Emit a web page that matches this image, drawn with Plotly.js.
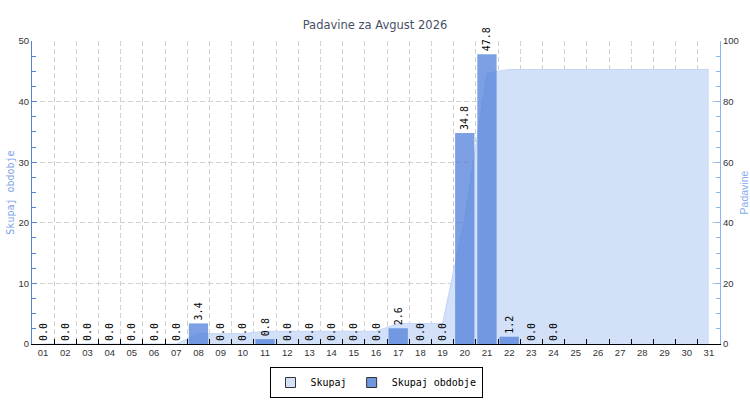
<!DOCTYPE html>
<html>
<head>
<meta charset="utf-8">
<script src="https://cdn.plot.ly/plotly-3.0.1.min.js"></script>
<style>html,body{margin:0;padding:0;background:#fff}#chart{width:750px;height:400px}</style>
</head>
<body>
<div id="chart"></div>
<script>
var days = ["01","02","03","04","05","06","07","08","09","10","11","12","13","14","15","16","17","18","19","20","21","22","23","24","25","26","27","28","29","30","31"];
var dailyRain = [0,0,0,0,0,0,0,3.4,0,0,0.8,0,0,0,0,0,2.6,0,0,34.8,47.8,1.2,0,0,null,null,null,null,null,null,null];
var cumulativeRain = [0,0,0,0,0,0,0,3.4,3.4,3.4,4.2,4.2,4.2,4.2,4.2,4.2,6.8,6.8,6.8,41.6,89.4,90.6,90.6,90.6,90.6,90.6,90.6,90.6,90.6,90.6,90.6];
var seriesNames = ["Skupaj", "Skupaj obdobje"];
var titleText = "Padavine za Avgust 2026";
var leftAxisTitle = "Skupaj obdobje";
var rightAxisTitle = "Padavine";

var areaFill = "rgb(210,224,248)";
var barFill = "rgba(80,128,218,0.75)";
var mono = "DejaVu Sans Mono";
var sans = "Liberation Sans";

var data = [
  {
    type: "scatter", mode: "lines", x: days, y: cumulativeRain, yaxis: "y",
    fill: "tozeroy", fillcolor: areaFill,
    line: {color: "rgb(196,213,244)", width: 1},
    showlegend: false, hoverinfo: "skip"
  },
  {
    type: "bar", x: days, y: dailyRain, yaxis: "y2",
    width: 0.87,
    marker: {color: barFill, line: {width: 0}},
    texttemplate: "%{y:.1f}", textposition: "outside", textangle: -90,
    constraintext: "none", cliponaxis: false,
    textfont: {family: mono, size: 10, color: "#000"},
    showlegend: false, hoverinfo: "skip"
  },
  {
    type: "scatter", mode: "markers", x: [days[0]], y: [null], yaxis: "y2", name: seriesNames[0],
    marker: {symbol: "square", size: 10, color: areaFill, line: {color: "#333", width: 1}},
    showlegend: true, hoverinfo: "skip"
  },
  {
    type: "scatter", mode: "markers", x: [days[0]], y: [null], yaxis: "y2", name: seriesNames[1],
    marker: {symbol: "square", size: 10, color: "rgb(110,152,222)", line: {color: "#333", width: 1}},
    showlegend: true, hoverinfo: "skip"
  }
];

var layout = {
  width: 750, height: 400,
  margin: {l: 32, r: 30, t: 41, b: 56, pad: 0, autoexpand: false},
  paper_bgcolor: "#fff", plot_bgcolor: "#fff",
  barmode: "overlay",
  title: {
    text: titleText, x: 0.5, xref: "container", xanchor: "center",
    y: 1 - 25/400, yref: "container", yanchor: "middle",
    font: {family: "DejaVu Sans", size: 11.5, color: "rgb(70,80,100)"}
  },
  xaxis: {
    type: "category", range: [-0.5, 30.5], automargin: false,
    tickson: "boundaries", ticks: "inside", ticklen: 5, tickcolor: "#000", tickwidth: 1,
    showline: true, linecolor: "#000", linewidth: 1,
    showgrid: true, gridcolor: "#d0d0d0", griddash: "5px,3px", gridwidth: 1,
    tickfont: {family: sans, size: 9.5, color: "#333"},
    zeroline: false, fixedrange: true
  },
  yaxis: {
    side: "right", range: [0, 100], dtick: 20, automargin: false,
    ticks: "inside", ticklen: 5, tickcolor: "rgb(140,180,240)",
    showline: true, linecolor: "rgb(140,180,240)", linewidth: 1,
    minor: {dtick: 5, ticks: "inside", ticklen: 4, tickcolor: "rgb(140,180,240)", showgrid: false},
    showgrid: true, gridcolor: "#d0d0d0", griddash: "5px,3px", gridwidth: 1,
    zeroline: false,
    tickfont: {family: sans, size: 9.5, color: "#333"},
    title: {text: rightAxisTitle, standoff: 2, font: {family: sans, size: 10.5, color: "rgb(135,172,238)"}},
    fixedrange: true
  },
  yaxis2: {
    overlaying: "y", side: "left", range: [0, 50], dtick: 10, automargin: false,
    ticks: "inside", ticklen: 5, tickcolor: "rgb(85,130,215)",
    showline: true, linecolor: "rgb(85,130,215)", linewidth: 1,
    minor: {dtick: 2.5, ticks: "inside", ticklen: 4, tickcolor: "rgb(85,130,215)", showgrid: false},
    showgrid: false, zeroline: false,
    tickfont: {family: sans, size: 9.5, color: "#333"},
    title: {text: leftAxisTitle, standoff: 2, font: {family: mono, size: 10, color: "rgb(125,162,230)"}},
    fixedrange: true
  },
  legend: {
    orientation: "h", x: 0.5, xanchor: "center", y: -23/303, yanchor: "top",
    bordercolor: "#000", borderwidth: 1, bgcolor: "#fff",
    font: {family: mono, size: 10, color: "#000"},
    traceorder: "normal", itemwidth: 30
  },
  showlegend: true
};

Plotly.newPlot("chart", data, layout, {staticPlot: true, displayModeBar: false});
</script>
</body>
</html>
